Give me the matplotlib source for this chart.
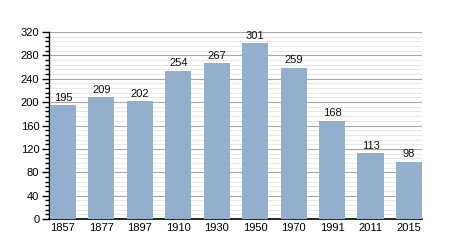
import matplotlib
matplotlib.use("Agg")
import matplotlib.pyplot as plt
from matplotlib.ticker import MultipleLocator

years = ["1857", "1877", "1897", "1910", "1930", "1950", "1970", "1991", "2011", "2015"]
population = [195, 209, 202, 254, 267, 301, 259, 168, 113, 98]

plt.rcParams['font.family'] = ['Liberation Sans', 'DejaVu Sans']

fig = plt.figure(figsize=(4.5, 2.5), dpi=100)
ax = fig.add_axes([0.109, 0.124, 0.829, 0.748])

x = list(range(len(years)))
bars = ax.bar(x, population, width=0.68, color="#94afcb", zorder=3)
for xi, v in zip(x, population):
    ax.text(xi, v + 4, str(v), ha="center", va="bottom", fontsize=8, color="#111111", zorder=4)

ax.set_xlim(-0.36, 9.34)
ax.set_ylim(0, 320)
ax.set_xticks(x)
ax.set_xticklabels(years)
ax.yaxis.set_major_locator(MultipleLocator(40))
ax.yaxis.set_minor_locator(MultipleLocator(8))
ax.tick_params(axis="x", length=0, labelsize=8, pad=3)
ax.tick_params(axis="y", which="major", length=5, width=1, labelsize=8, pad=2)
ax.tick_params(axis="y", which="minor", length=3, width=1)
ax.grid(axis="y", which="major", color="#a8a8a8", linewidth=0.8, zorder=0)
ax.grid(axis="y", which="minor", color="#e8e8e8", linewidth=0.7, zorder=0)
ax.set_axisbelow(True)
for s in ["top", "right"]:
    ax.spines[s].set_visible(False)
ax.spines["left"].set_linewidth(1)
ax.spines["bottom"].set_linewidth(1.2)

fig.savefig("out.png", dpi=100)
